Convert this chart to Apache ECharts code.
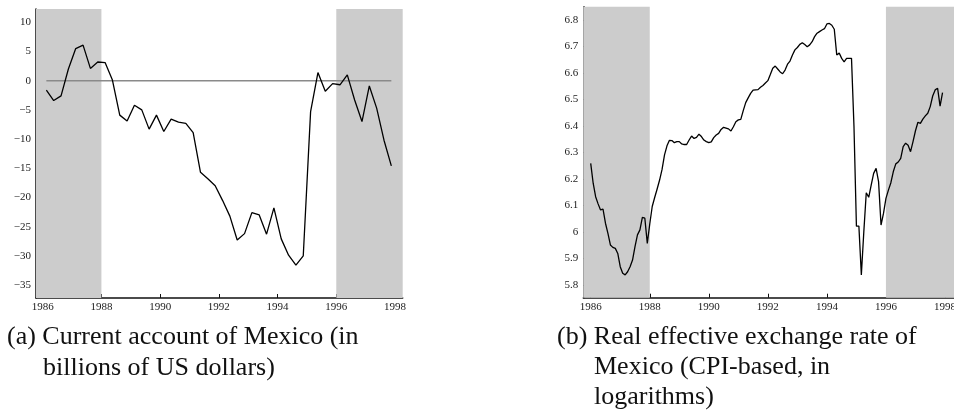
<!DOCTYPE html>
<html><head><meta charset="utf-8">
<script src="https://cdn.jsdelivr.net/npm/echarts@6/dist/echarts.min.js"></script>
<style>html,body{margin:0;padding:0;background:#fff;overflow:hidden}#c{width:954px;height:414px}</style>
</head><body><div id="c"></div>
<script>
// ---- data ----
const xTicks = [1986, 1988, 1990, 1992, 1994, 1996, 1998];
const caTicks = [-35, -30, -25, -20, -15, -10, -5, 0, 5, 10];
const reerTicks = [5.8, 5.9, 6, 6.1, 6.2, 6.3, 6.4, 6.5, 6.6, 6.7, 6.8];
const caStartYear = 1986;      // quarterly, 1986Q1 .. 1997Q4
const caValues = [-1.6, -3.4, -2.6, 2.0, 5.5, 6.1, 2.1, 3.2, 3.1, 0.1, -5.9, -6.9,
  -4.2, -5.0, -8.3, -5.9, -8.7, -6.6, -7.1, -7.3, -8.9, -15.7, -16.8, -18.0,
  -20.5, -23.2, -27.3, -26.2, -22.6, -23.0, -26.3, -21.8, -27.1, -29.9, -31.6, -30.0,
  -5.3, 1.4, -1.8, -0.5, -0.7, 1.0, -3.3, -7.0, -0.9, -4.7, -10.2, -14.6];
const reerStartYear = 1986;    // monthly, Jan 1986 .. Dec 1997
const reerValues = [
  6.259, 6.184, 6.133, 6.106, 6.083, 6.086, 6.033, 5.995, 5.951, 5.942, 5.938, 5.919,
  5.869, 5.844, 5.838, 5.850, 5.869, 5.894, 5.945, 5.989, 6.008, 6.055, 6.052, 5.957,
  6.030, 6.096, 6.130, 6.162, 6.196, 6.236, 6.291, 6.325, 6.346, 6.345, 6.337, 6.341,
  6.341, 6.332, 6.330, 6.330, 6.347, 6.362, 6.353, 6.357, 6.369, 6.360, 6.347, 6.341,
  6.337, 6.340, 6.356, 6.366, 6.372, 6.387, 6.395, 6.392, 6.389, 6.381, 6.397, 6.416,
  6.423, 6.425, 6.458, 6.488, 6.506, 6.523, 6.535, 6.536, 6.537, 6.546, 6.553, 6.562,
  6.571, 6.594, 6.618, 6.626, 6.615, 6.604, 6.597, 6.611, 6.633, 6.645, 6.668, 6.687,
  6.696, 6.708, 6.714, 6.707, 6.699, 6.706, 6.718, 6.737, 6.750, 6.756, 6.762, 6.767,
  6.785, 6.787, 6.780, 6.765, 6.668, 6.675, 6.655, 6.642, 6.655, 6.655, 6.655, 6.400,
  6.022, 6.022, 5.838, 6.000, 6.148, 6.131, 6.177, 6.221, 6.240, 6.190, 6.026, 6.070,
  6.127, 6.158, 6.186, 6.228, 6.257, 6.264, 6.278, 6.322, 6.335, 6.327, 6.303, 6.341,
  6.382, 6.414, 6.410, 6.426, 6.438, 6.448, 6.473, 6.513, 6.536, 6.542, 6.475, 6.526];
const shadedPeriods = [['min', 1988], [1996, 'max']];
const captionA = ['(a) Current account of Mexico (in', 'billions of US dollars)'];
const captionB = ['(b) Real effective exchange rate of', 'Mexico (CPI-based, in', 'logarithms)'];

// ---- layout ----
const ax = [
  { x: [1985.772, 1998.262], y: [-37.23, 12.28] },
  { x: [1985.749, 1998.305], y: [5.752, 6.850] }
];
const caData = caValues.map((v, i) => [caStartYear + (i + 0.5) / 4, v]);
const reerData = reerValues.map((v, i) => [reerStartYear + i / 12, v]);
const FONT = 'Liberation Serif';
const fmtNum = v => { const s = String(Math.round(v * 100) / 100); return s.replace('-', '\u2212'); };

function xAxisFor(i) {
  return {
    type: 'value', gridIndex: i, min: ax[i].x[0], max: ax[i].x[1],
    axisLine: { show: true, onZero: false, lineStyle: { color: '#111', width: 1.5 } },
    axisTick: { show: true, inside: true, length: 4, customValues: xTicks, lineStyle: { color: '#111', width: 1 } },
    axisLabel: { customValues: xTicks, fontFamily: FONT, fontSize: 11, color: '#222', margin: 4, formatter: v => String(v) },
    splitLine: { show: false }
  };
}
function yAxisFor(i, ticks) {
  return {
    type: 'value', gridIndex: i, min: ax[i].y[0], max: ax[i].y[1],
    axisLine: { show: true, onZero: false, lineStyle: { color: '#111', width: 1.5 } },
    axisTick: { show: true, inside: true, length: 4, customValues: ticks, lineStyle: { color: '#111', width: 1 } },
    axisLabel: { customValues: ticks, fontFamily: FONT, fontSize: 11, color: '#222', margin: 5, formatter: fmtNum },
    splitLine: { show: false }
  };
}
function shadeSeries(i) {
  const b = v => v === 'min' ? ax[i].x[0] : v === 'max' ? ax[i].x[1] : v;
  return {
    type: 'line', xAxisIndex: i, yAxisIndex: i, z: 1, silent: true,
    data: [[ax[i].x[0], ax[i].y[0]]], showSymbol: false, lineStyle: { opacity: 0 },
    markArea: { silent: true, itemStyle: { color: '#cccccc' },
      data: shadedPeriods.map(p => [{ xAxis: b(p[0]) }, { xAxis: b(p[1]) }]) }
  };
}
function captionTexts(lines, x0, indentX, baselines) {
  return lines.map((t, k) => ({
    type: 'text', left: k === 0 ? x0 : indentX, top: baselines[k] - 21, silent: true,
    style: { text: t, font: '26px "' + FONT + '"', fill: '#111' }
  }));
}

const chart = echarts.init(document.getElementById('c'), null, { renderer: 'canvas' });
chart.setOption({
  animation: false,
  backgroundColor: '#fff',
  grid: [
    { left: 36, top: 9, width: 366.7, height: 289, outerBoundsMode: 'none', containLabel: false },
    { left: 583.3, top: 6.7, width: 370.7, height: 291, outerBoundsMode: 'none', containLabel: false }
  ],
  xAxis: [xAxisFor(0), xAxisFor(1)],
  yAxis: [yAxisFor(0, caTicks), yAxisFor(1, reerTicks)],
  series: [
    shadeSeries(0),
    shadeSeries(1),
    { type: 'line', xAxisIndex: 0, yAxisIndex: 0, z: 2, silent: true, showSymbol: false,
      data: [[caData[0][0], 0], [caData[caData.length - 1][0], 0]],
      lineStyle: { color: '#8a8a8a', width: 1.5 } },
    { type: 'line', xAxisIndex: 0, yAxisIndex: 0, z: 3, showSymbol: false, data: caData,
      lineStyle: { color: '#000', width: 1.3 } },
    { type: 'line', xAxisIndex: 1, yAxisIndex: 1, z: 3, showSymbol: false, data: reerData,
      lineStyle: { color: '#000', width: 1.3 } }
  ],
  graphic: [
    ...captionTexts(captionA, 7, 43, [345, 376]),
    ...captionTexts(captionB, 557, 594, [345, 375.5, 405.5])
  ]
});
</script></body></html>
